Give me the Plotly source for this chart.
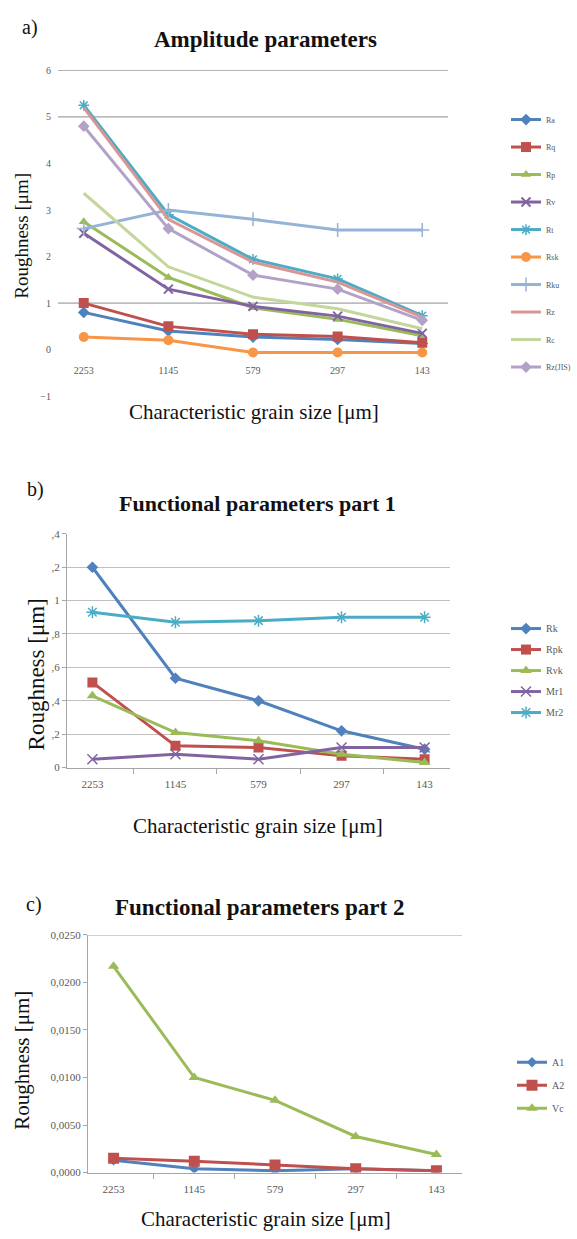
import plotly.graph_objects as go

W, H = 577, 1239

# ---------------- data ----------------
grain = ["2253", "1145", "579", "297", "143"]

# panel a) amplitude parameters [µm]
Ra = [0.80, 0.40, 0.27, 0.22, 0.13]
Rq = [1.00, 0.50, 0.33, 0.28, 0.15]
Rp = [2.75, 1.55, 0.90, 0.65, 0.30]
Rv = [2.50, 1.30, 0.93, 0.72, 0.35]
Rt = [5.25, 2.90, 1.94, 1.52, 0.73]
Rsk = [0.27, 0.20, -0.06, -0.06, -0.06]
Rku = [2.60, 3.00, 2.80, 2.57, 2.57]
Rz = [5.20, 2.80, 1.88, 1.45, 0.70]
Rc = [3.36, 1.78, 1.13, 0.88, 0.45]
RzJIS = [4.80, 2.60, 1.60, 1.30, 0.63]
a_ticks = [-1, 0, 1, 2, 3, 4, 5, 6]
a_grid = [6, 5, 1]

# panel b) functional parameters part 1
Rk = [1.20, 0.535, 0.40, 0.22, 0.11]
Rpk = [0.51, 0.13, 0.12, 0.07, 0.05]
Rvk = [0.43, 0.21, 0.16, 0.08, 0.03]
Mr1 = [0.05, 0.08, 0.05, 0.12, 0.12]
Mr2 = [0.93, 0.87, 0.88, 0.90, 0.90]
b_ticks = [0, 0.2, 0.4, 0.6, 0.8, 1.0, 1.2, 1.4]
b_ticktext = ["0", ",2", ",4", ",6", ",8", "1", ",2", ",4"]

# panel c) functional parameters part 2
A1 = [0.0013, 0.0004, 0.0002, 0.0004, 0.0002]
A2 = [0.0015, 0.0012, 0.0008, 0.0004, 0.0002]
Vc = [0.0217, 0.0100, 0.0076, 0.0038, 0.0019]
c_ticks = [0, 0.005, 0.01, 0.015, 0.02, 0.025]
c_ticktext = ["0,0000", "0,0050", "0,0100", "0,0150", "0,0200", "0,0250"]
c_grid = [0.025]

# ---------------- helpers ----------------
def px_x(p):
    return p / W

def px_y(p):
    return 1 - p / H

SERIF = "Liberation Serif"
TICKA = dict(family=SERIF, size=10, color="#595959")
TICKB = dict(family=SERIF, size=11, color="#595959")
LEGA = dict(family=SERIF, size=8, color="#595959")
LEGB = dict(family=SERIF, size=10, color="#595959")

BLUE, RED, GREEN, PURPLE, CYAN, ORANGE = "#4F81BD", "#C0504D", "#9BBB59", "#8064A2", "#4BACC6", "#F79646"
LBLUE, PINK, LGREEN, LAV = "#95B3D7", "#D99694", "#C3D69B", "#B3A2C7"

fig = go.Figure()

def add(x, y, name, color, symbol, size, xa, ya, leg, width=3, mode="lines+markers", mline=None):
    marker = dict(symbol=symbol, size=size, color=color)
    if mline:
        marker["line"] = dict(color=color, width=mline)
    fig.add_trace(go.Scatter(
        x=x, y=y, name=name, mode=mode, xaxis=xa, yaxis=ya,
        line=dict(color=color, width=width), marker=marker,
        legend=leg, legendgroup=leg + name, showlegend=True))

# panel a
add(grain, Ra, "Ra", BLUE, "diamond", 9, "x", "y", "legend")
add(grain, Rq, "Rq", RED, "square", 10, "x", "y", "legend")
add(grain, Rp, "Rp", GREEN, "triangle-up", 9, "x", "y", "legend")
add(grain, Rv, "Rv", PURPLE, "x-thin", 9, "x", "y", "legend", mline=2)
add(grain, Rt, "Rt", CYAN, "asterisk", 9, "x", "y", "legend", mline=1.5)
add(grain, Rsk, "Rsk", ORANGE, "circle", 10, "x", "y", "legend")
add(grain, Rku, "Rku", LBLUE, "cross-thin", 10, "x", "y", "legend", mline=1.5)
add(grain, Rz, "Rz", PINK, "circle", 1, "x", "y", "legend", mode="lines")
add(grain, Rc, "Rc", LGREEN, "circle", 1, "x", "y", "legend", mode="lines")
add(grain, RzJIS, "Rz(JIS)", LAV, "diamond", 9, "x", "y", "legend")

# panel b
add(grain, Rk, "Rk", BLUE, "diamond", 9, "x2", "y2", "legend2")
add(grain, Rpk, "Rpk", RED, "square", 10, "x2", "y2", "legend2")
add(grain, Rvk, "Rvk", GREEN, "triangle-up", 10, "x2", "y2", "legend2")
add(grain, Mr1, "Mr1", PURPLE, "x-thin", 10, "x2", "y2", "legend2", mline=1.5)
add(grain, Mr2, "Mr2", CYAN, "asterisk", 10, "x2", "y2", "legend2", mline=1.5)

# panel c
add(grain, A1, "A1", BLUE, "diamond", 8, "x3", "y3", "legend3")
add(grain, A2, "A2", RED, "square", 11, "x3", "y3", "legend3")
add(grain, Vc, "Vc", GREEN, "triangle-up", 10, "x3", "y3", "legend3")

# ---------------- axes ----------------
ya_dom = [px_y(394), px_y(65)]
yb_dom = [px_y(769), px_y(533)]
yc_dom = [px_y(1178), px_y(938)]

zero_frac_a = (0 - (-1)) / 7.0
xa_pos = ya_dom[0] + zero_frac_a * (ya_dom[1] - ya_dom[0])

fig.update_layout(
    width=W, height=H, margin=dict(l=0, r=0, t=0, b=0),
    paper_bgcolor="white", plot_bgcolor="white",
    xaxis=dict(domain=[px_x(58), px_x(448)], anchor="free", position=xa_pos,
               type="category", showgrid=False, showline=False, ticks="",
               tickfont=TICKA, ticklabelstandoff=13, zeroline=False),
    yaxis=dict(domain=ya_dom, anchor="x", range=[-1, 6], tickvals=a_ticks,
               showgrid=False, zeroline=False, showline=False, tickfont=TICKA,
               ticklabelstandoff=6),
    xaxis2=dict(domain=[px_x(67), px_x(450)], anchor="y2", type="category",
                showgrid=False, showline=True, linecolor="#A6A6A6", linewidth=1,
                ticks="outside", tickson="boundaries", ticklen=5, tickcolor="#A6A6A6",
                tickfont=TICKB, ticklabelstandoff=6),
    yaxis2=dict(domain=yb_dom, anchor="x2", range=[0, 1.4], tickvals=b_ticks,
                ticktext=b_ticktext, showgrid=True, gridcolor="#BFBFBF", gridwidth=1,
                zeroline=False, showline=True, linecolor="#A6A6A6", ticks="outside",
                ticklen=4, tickcolor="#A6A6A6", tickfont=TICKB),
    xaxis3=dict(domain=[px_x(88), px_x(462)], anchor="y3", type="category",
                showgrid=False, showline=True, linecolor="#A6A6A6", linewidth=1,
                ticks="outside", tickson="boundaries", ticklen=5, tickcolor="#A6A6A6",
                tickfont=TICKB, ticklabelstandoff=6),
    yaxis3=dict(domain=yc_dom, anchor="x3", range=[0, 0.025], tickvals=c_ticks,
                ticktext=c_ticktext, showgrid=False, zeroline=False, showline=True,
                linecolor="#A6A6A6", ticks="outside", ticklen=4, tickcolor="#A6A6A6",
                tickfont=TICKB),
    legend=dict(x=px_x(506), y=px_y(100), xanchor="left", yanchor="top",
                font=LEGA, tracegroupgap=8.5, itemwidth=30, bgcolor="rgba(0,0,0,0)"),
    legend2=dict(x=px_x(506), y=px_y(614), xanchor="left", yanchor="top",
                 font=LEGB, tracegroupgap=2, itemwidth=30, bgcolor="rgba(0,0,0,0)"),
    legend3=dict(x=px_x(512), y=px_y(1052), xanchor="left", yanchor="top",
                 font=LEGB, tracegroupgap=4, itemwidth=30, bgcolor="rgba(0,0,0,0)"),
)

# gridlines drawn only where the reference shows them
for g in a_grid:
    fig.add_shape(type="line", xref="x domain", yref="y", x0=0, x1=1, y0=g, y1=g,
                  line=dict(color="#8C8C8C", width=1), layer="below")
for g in c_grid:
    fig.add_shape(type="line", xref="x3 domain", yref="y3", x0=0, x1=1, y0=g, y1=g,
                  line=dict(color="#8C8C8C", width=1), layer="below")

# ---------------- text ----------------
def ann(text, x, y, size, bold=False, angle=0, color="#111111"):
    fig.add_annotation(text=("<b>%s</b>" % text) if bold else text,
                       x=px_x(x), y=px_y(y), xref="paper", yref="paper",
                       showarrow=False, textangle=angle,
                       font=dict(family=SERIF, size=size, color=color),
                       xanchor="center", yanchor="middle")

ann("a)", 30, 22, 20)
ann("b)", 35, 488, 20)
ann("c)", 34, 907, 20)
ann("Amplitude parameters", 265, 34, 23, bold=True)
ann("Functional parameters part 1", 257, 502, 22, bold=True)
ann("Functional parameters part 2", 259, 910, 23, bold=True)
ann("Characteristic grain size [μm]", 254, 410, 21)
ann("Characteristic grain size [μm]", 258, 828, 21)
ann("Characteristic grain size [μm]", 266, 1225, 21)
ann("Roughness [μm]", 22, 232, 19, angle=-90)
ann("Roughness [μm]", 36, 675, 23, angle=-90)
ann("Roughness [μm]", 22, 1065, 21, angle=-90)

fig.write_html("out.html")
